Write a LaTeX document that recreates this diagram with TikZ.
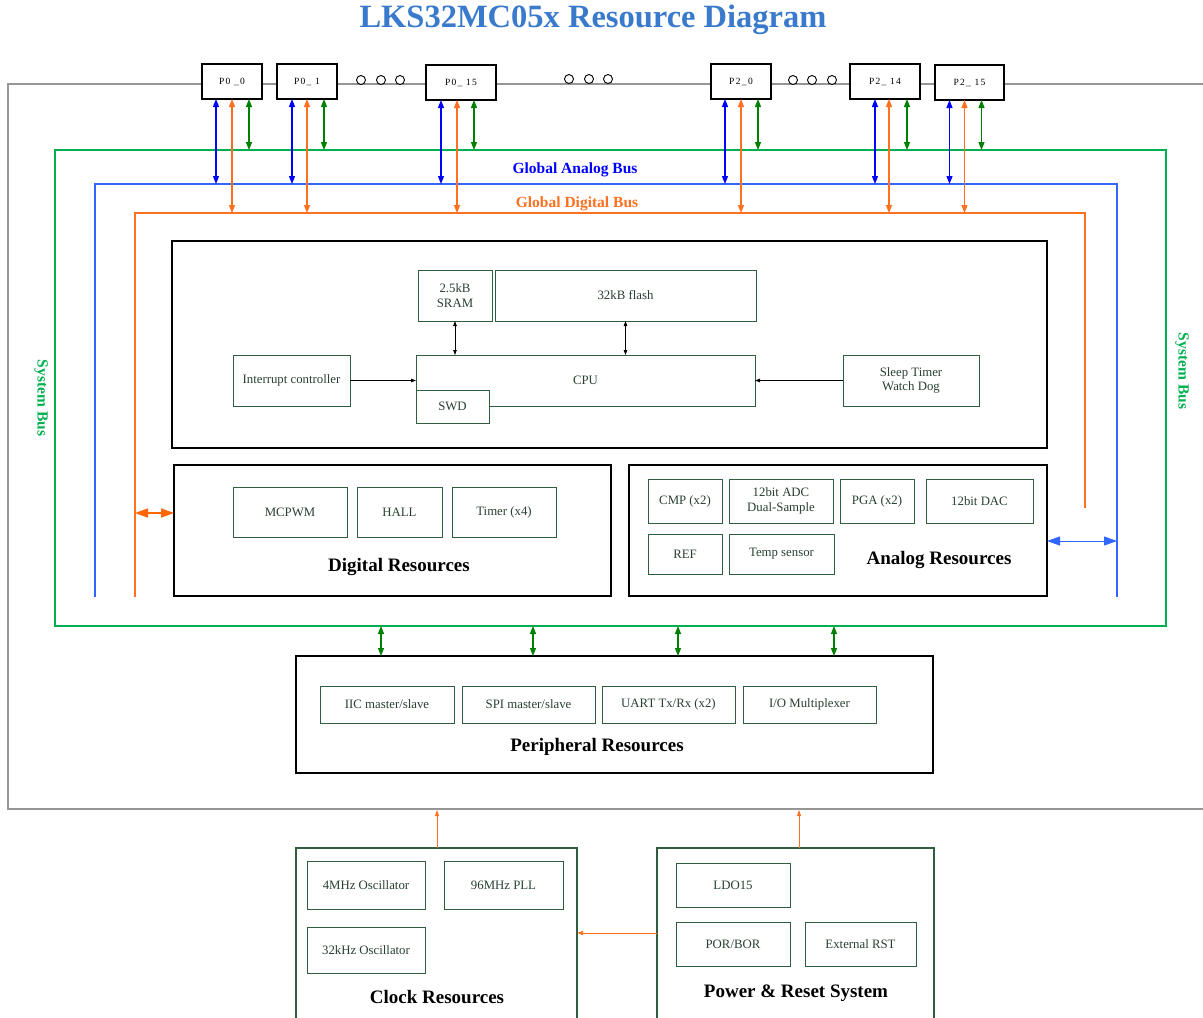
\documentclass[tikz,border=0pt]{standalone}
\usepackage{fontspec}
\setmainfont{Liberation Serif}
\usetikzlibrary{arrows.meta}
\definecolor{titleblue}{RGB}{58,122,204}
\definecolor{sysgreen}{RGB}{0,176,80}
\definecolor{abus}{RGB}{51,102,255}
\definecolor{dbus}{RGB}{255,112,32}
\definecolor{pinblue}{RGB}{0,0,255}
\definecolor{pingreen}{RGB}{0,128,0}
\definecolor{bigorange}{RGB}{255,102,0}
\definecolor{subgreen}{RGB}{46,94,62}
\definecolor{subtext}{RGB}{40,64,48}
\definecolor{framegray}{RGB}{150,150,150}
\newcommand\blk[7]{\node[#2,minimum width={(#5)-(#3)},minimum height={(#6)-(#4)}] (#1) at ({((#3)+(#5))/2},{((#4)+(#6))/2}) {#7};}
\begin{document}
\begin{tikzpicture}[x=1pt,y=-1pt,
  pinbox/.style={draw=black,line width=1.1,fill=white,inner sep=0,outer sep=0,font=\fontsize{9.5}{10}\selectfont\addfontfeature{LetterSpace=14}},
  corebox/.style={draw=black,line width=1.5,inner sep=0,outer sep=0},
  subbox/.style={draw=subgreen,line width=1,fill=white,inner sep=0,outer sep=0,align=center,text=subtext,font=\fontsize{12.8}{14.5}\selectfont},
  grpbox/.style={draw=subgreen,line width=1.5,inner sep=0,outer sep=0},
  grptitle/.style={font=\bfseries\fontsize{19}{22}\selectfont,text=black},
  dots/.style={circle,draw=black,line width=0.9,fill=white,minimum size=9pt,inner sep=0},
  barr/.style={pinblue,line width=1.1,{Triangle[length=8pt,width=6pt]}-{Triangle[length=8pt,width=6pt]}},
  oarr/.style={dbus,line width=1.1,{Triangle[length=8pt,width=6pt]}-{Triangle[length=8pt,width=6pt]}},
  garr/.style={pingreen,line width=1.1,{Triangle[length=8pt,width=6pt]}-{Triangle[length=8pt,width=6pt]}},
  karr/.style={black,line width=0.8,-{Triangle[length=5pt,width=3.5pt]}},
  kdarr/.style={black,line width=0.8,{Triangle[length=5pt,width=3.5pt]}-{Triangle[length=5pt,width=3.5pt]}},
  sarr/.style={dbus,line width=0.8,-{Triangle[length=6pt,width=4pt]}},
  buslabel/.style={font=\bfseries\fontsize{15.5}{17}\selectfont},
  sysl/.style={font=\bfseries\fontsize{15.5}{17}\selectfont,text=sysgreen,rotate=-90}
]
\useasboundingbox (0,0) rectangle (1203,1018);
\clip (0,0) rectangle (1203,1018);
\fill[white] (0,0) rectangle (1203,1018);

% title
\node[font=\bfseries\fontsize{32.5}{36}\selectfont,text=titleblue] (title) at (593,20) {LKS32MC05x Resource Diagram};

% outer gray frame
\draw[framegray,line width=1.3] (1215,84) -- (8,84) -- (8,809) -- (1215,809);

% buses
\draw[sysgreen,line width=1.5] (55,150) rectangle (1166,626);
\draw[abus,line width=1.5] (95,597) -- (95,184) -- (1117,184) -- (1117,597);
\draw[dbus,line width=1.5] (135,597) -- (135,213) -- (1085,213) -- (1085,508);
\coordinate (gbusT) at (0,150);
\coordinate (abusT) at (0,184);
\coordinate (dbusT) at (0,213);
\node[buslabel,text=pinblue] (alab) at (575,170) {Global Analog Bus};
\node[buslabel,text=dbus] (dlab) at (577,204) {Global Digital Bus};
\node[sysl] (sysL) at (41,398) {System Bus};
\node[sysl] (sysR) at (1182,371) {System Bus};

% pins
\blk{p00}{pinbox}{202}{64}{262}{99}{P0 \_0}
\blk{p01}{pinbox}{277}{64}{337}{99}{P0\_ 1}
\blk{p015}{pinbox}{426}{65}{496}{100}{P0\_ 15}
\blk{p20}{pinbox}{711}{64}{771}{99}{P2\_0}
\blk{p214}{pinbox}{850}{64}{920}{99}{P2\_ 14}
\blk{p215}{pinbox}{935}{65}{1004}{100}{P2\_ 15}
\node[dots] (d1) at (361,80) {};
\node[dots] (d2) at (381,80) {};
\node[dots] (d3) at (400,80) {};
\node[dots] (d4) at (569,79) {};
\node[dots] (d5) at (589,79) {};
\node[dots] (d6) at (608,79) {};
\node[dots] (d7) at (793,80) {};
\node[dots] (d8) at (812,80) {};
\node[dots] (d9) at (832,80) {};

% pin arrows
\foreach \p/\b/\o/\g in {p00/-16/0/17, p01/-15/0/17, p015/-20/-4/13, p20/-16/0/17, p214/-10/4/22, p215/-20/-5/12}{
  \draw[barr] ([xshift=\b pt]\p.south) -- ([xshift=\b pt]\p.south |- abusT);
  \draw[oarr] ([xshift=\o pt]\p.south) -- ([xshift=\o pt]\p.south |- dbusT);
  \draw[garr] ([xshift=\g pt]\p.south) -- ([xshift=\g pt]\p.south |- gbusT);
}

% core
\blk{core}{corebox}{172}{241}{1047}{448}{}
\blk{sram}{subbox}{418}{270}{492}{321}{2.5kB\\SRAM}
\blk{flash}{subbox}{495}{270}{756}{321}{32kB flash}
\blk{cpu}{subbox}{416}{355}{755}{406}{CPU}
\blk{swd}{subbox}{416}{390}{489}{423}{SWD}
\blk{intc}{subbox}{233}{355}{350}{406}{Interrupt controller}
\blk{sleep}{subbox}{843}{355}{979}{406}{Sleep Timer\\Watch Dog}
\draw[kdarr] (sram.south) -- (sram.south |- cpu.north);
\draw[kdarr] (flash.south) -- (flash.south |- cpu.north);
\draw[karr] (intc.east) -- (intc.east -| cpu.west);
\draw[karr] (sleep.west) -- (sleep.west -| cpu.east);

% digital
\blk{dig}{corebox}{174}{465}{611}{596}{}
\blk{mcpwm}{subbox}{233}{487}{347}{537}{MCPWM}
\blk{hall}{subbox}{357}{487}{442}{537}{HALL}
\blk{timer}{subbox}{452}{487}{556}{537}{Timer (x4)}
\node[grptitle] (digt) at (399,567) {Digital Resources};
\coordinate (dbusL) at (135,513);
\draw[bigorange,line width=1.5,{Triangle[length=13pt,width=9pt]}-{Triangle[length=13pt,width=9pt]}] (dbusL) -- (dbusL -| dig.west);

% analog
\blk{ana}{corebox}{629}{465}{1047}{596}{}
\blk{cmp}{subbox}{648}{479}{722}{523}{CMP (x2)}
\blk{adc}{subbox}{729}{479}{833}{523}{12bit ADC\\Dual-Sample}
\blk{pga}{subbox}{840}{479}{914}{523}{PGA (x2)}
\blk{dac}{subbox}{926}{479}{1033}{523}{12bit DAC}
\blk{ref}{subbox}{648}{534}{722}{574}{REF}
\blk{temp}{subbox}{729}{534}{834}{574}{Temp sensor}
\node[grptitle] (anat) at (939,560) {Analog Resources};
\coordinate (abusR) at (1117,541);
\draw[abus,line width=1,{Triangle[length=13pt,width=9pt]}-{Triangle[length=13pt,width=9pt]}] (abusR) -- (abusR -| ana.east);

% peripheral
\blk{per}{corebox}{296}{656}{933}{773}{}
\blk{iic}{subbox}{320}{686}{454}{723}{IIC master/slave}
\blk{spi}{subbox}{462}{686}{595}{723}{SPI master/slave}
\blk{uart}{subbox}{602}{686}{735}{723}{UART Tx/Rx (x2)}
\blk{iom}{subbox}{743}{686}{876}{723}{I/O Multiplexer}
\node[grptitle] (pert) at (597,747) {Peripheral Resources};
\foreach \x [count=\i] in {381,533,678,834}{
  \coordinate (sb\i) at (\x,626);
  \draw[garr] (sb\i) -- (sb\i |- per.north);
}

% clock
\blk{clk}{grpbox}{296}{848}{577}{1040}{}
\blk{osc4}{subbox}{307}{861}{425}{909}{4MHz Oscillator}
\blk{pll}{subbox}{444}{861}{563}{909}{96MHz PLL}
\blk{osc32}{subbox}{307}{927}{425}{973}{32kHz Oscillator}
\node[grptitle] (clkt) at (437,997) {Clock Resources};

% power
\blk{pwr}{grpbox}{657}{848}{934}{1040}{}
\blk{ldo}{subbox}{676}{863}{790}{907}{LDO15}
\blk{por}{subbox}{676}{922}{790}{966}{POR/BOR}
\blk{rst}{subbox}{805}{922}{916}{966}{External RST}
\node[grptitle] (pwrt) at (796,993) {Power \& Reset System};

\coordinate (gf1) at (437,810);
\coordinate (gf2) at (799,810);
\coordinate (pc) at (657,933);
\draw[sarr] (gf1 |- clk.north) -- (gf1);
\draw[sarr] (gf2 |- pwr.north) -- (gf2);
\draw[sarr] (pc) -- (pc -| clk.east);
\end{tikzpicture}
\end{document}
